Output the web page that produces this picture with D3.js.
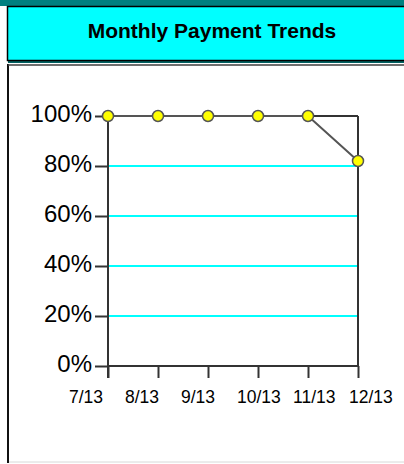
<!DOCTYPE html>
<html><head><meta charset="utf-8">
<script src="https://cdn.jsdelivr.net/npm/d3@7"></script>
<style>html,body{margin:0;padding:0;background:#fff;}svg{display:block;}</style>
</head><body>
<script>
const title = "Monthly Payment Trends";
const months = ["7/13","8/13","9/13","10/13","11/13","12/13"];
const values = [100,100,100,100,100,82];
const yTicks = [0,20,40,60,80,100];

const W = 404, H = 464;
const svg = d3.select("body").append("svg").attr("width", W).attr("height", H);

// header
svg.append("rect").attr("x",0).attr("y",0).attr("width",W).attr("height",6).attr("fill","#008080");
svg.append("rect").attr("x",8).attr("y",61).attr("width",W-8).attr("height",2).attr("fill","#006060");
svg.append("rect").attr("x",7.5).attr("y",6.5).attr("width",W).attr("height",54).attr("fill","#00ffff").attr("stroke","#000").attr("stroke-width",1.5);
svg.append("text").attr("x",212).attr("y",38).attr("text-anchor","middle")
  .attr("font-family","Liberation Sans, Arial, sans-serif").attr("font-weight","bold").attr("font-size",21)
  .attr("fill","#000").text(title);

// panel
svg.append("rect").attr("x",8).attr("y",65).attr("width",W).attr("height",397).attr("fill","#fff").attr("stroke","#d8d8d8").attr("stroke-width",1);
svg.append("line").attr("x1",8).attr("x2",8).attr("y1",64).attr("y2",463).attr("stroke","#111").attr("stroke-width",2);
svg.append("line").attr("x1",8).attr("x2",W).attr("y1",65).attr("y2",65).attr("stroke","#444").attr("stroke-width",1.5);

const x = d3.scalePoint().domain(months).range([108,358]);
const y = d3.scaleLinear().domain([0,100]).range([366,116]);
const xLab = d3.scalePoint().domain(months).range([69,349]);

const font = "Liberation Sans, Arial, sans-serif";
const g = svg.append("g");

// grid lines
g.selectAll("line.grid").data(yTicks.filter(v => v>0 && v<100)).join("line")
  .attr("x1",108).attr("x2",358).attr("y1",d=>y(d)).attr("y2",d=>y(d))
  .attr("stroke","#00ffff").attr("stroke-width",2);

// frame top and right
g.append("line").attr("x1",108).attr("x2",358).attr("y1",y(100)).attr("y2",y(100)).attr("stroke","#333").attr("stroke-width",2);
g.append("line").attr("x1",358).attr("x2",358).attr("y1",y(100)).attr("y2",y(0)).attr("stroke","#333").attr("stroke-width",2);

// y axis
const yAxis = g.append("g").attr("transform","translate(108,0)")
  .call(d3.axisLeft(y).tickValues(yTicks).tickSize(13).tickPadding(3).tickFormat(d=>d+"%"));
yAxis.select(".domain").remove();
yAxis.selectAll(".tick line").attr("stroke","#333").attr("stroke-width",2);
yAxis.selectAll(".tick text").attr("font-family",font).attr("font-size",24).attr("fill","#000").attr("dy","0.22em");
g.append("line").attr("x1",108).attr("x2",108).attr("y1",y(100)).attr("y2",378).attr("stroke","#333").attr("stroke-width",2);

// x axis
const xAxis = g.append("g").attr("transform",`translate(0,${y(0)})`)
  .call(d3.axisBottom(x).tickSize(12).tickFormat(""));
xAxis.select(".domain").remove();
xAxis.selectAll(".tick line").attr("stroke","#333").attr("stroke-width",2);
g.append("line").attr("x1",108).attr("x2",358).attr("y1",y(0)).attr("y2",y(0)).attr("stroke","#333").attr("stroke-width",2);
g.selectAll("text.xl").data(months).join("text").attr("class","xl")
  .attr("x",d=>xLab(d)).attr("y",403).attr("font-family",font).attr("font-size",17.5).attr("fill","#000").text(d=>d);

// line
const pts = months.map((m,i)=>({m, v: values[i]}));
g.append("path").datum(pts).attr("fill","none").attr("stroke","#555").attr("stroke-width",2)
  .attr("d", d3.line().x(d=>x(d.m)).y(d=>y(d.v)));
g.selectAll("circle").data(pts).join("circle")
  .attr("cx",d=>x(d.m)).attr("cy",d=>y(d.v)).attr("r",5.5)
  .attr("fill","#ffff00").attr("stroke","#555").attr("stroke-width",1.5);
</script>
</body></html>
